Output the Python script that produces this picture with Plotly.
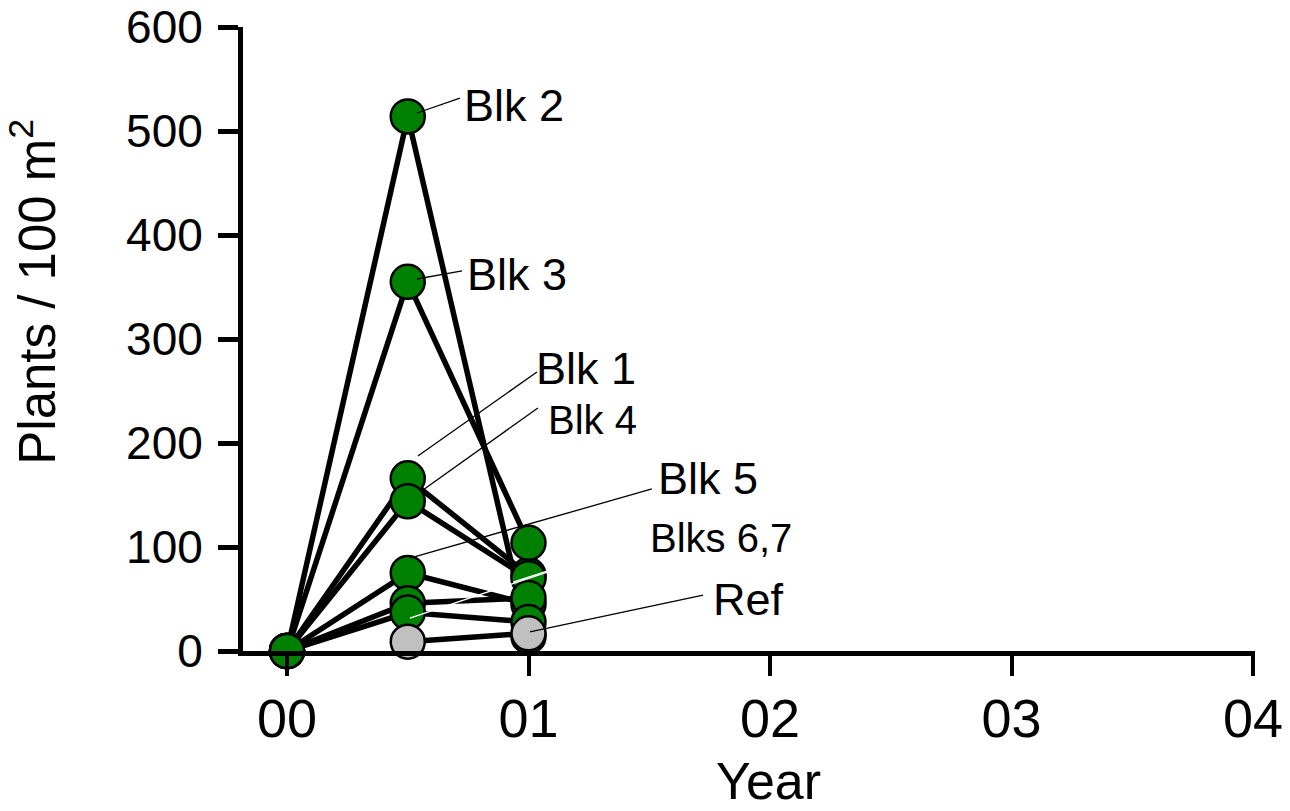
import plotly.graph_objects as go

# ---------------- data ----------------
years = [0, 0.5, 1]
series_names = ["Blk 1", "Blk 2", "Blk 3", "Blk 4", "Blk 5", "Blk 6", "Blk 7", "Ref"]
blk1 = [0, 166, 73]
blk2 = [0, 514, 14]
blk3 = [0, 355, 104]
blk4 = [0, 144, 70]
blk5 = [0, 75, 45]
blk6 = [0, 46, 51]
blk7 = [0, 37, 28]
ref_x = [0.5, 1]
ref = [9, 17]

x_tickvals = [0, 1, 2, 3, 4]
x_ticktext = ["00", "01", "02", "03", "04"]
y_tickvals = [0, 100, 200, 300, 400, 500, 600]

# label text, label position (data units), font size, leader start/end (data units), colour
labels = [
    ("Blk 2", 0.940, 525, 45, (0.716, 531.7), (0.538, 517.3), "black"),
    ("Blk 3", 0.952, 362.5, 45, (0.725, 365.4), (0.538, 357.7), "black"),
    ("Blk 1", 1.238, 272, 45, (1.035, 268.3), (0.542, 187.5), "black"),
    ("Blk 4", 1.267, 222, 40, (1.039, 233.7), (0.563, 154.8), "black"),
    ("Blk 5", 1.743, 166, 45, (1.511, 155.8), (0.509, 89.4), "black"),
    ("Blks 6,7", 1.797, 108.7, 40, (1.474, 106.7), (0.509, 31.7), "white"),
    ("Ref", 1.909, 50, 45, (1.723, 53.8), (1.006, 18.3), "black"),
]
extra_leaders = [((1.474, 106.7), (0.936, 66.3), "white")]

GREEN = "#008000"
GREY = "#C0C0C0"
FONT = "Arial, Liberation Sans, sans-serif"

data = [
    (years, blk1, GREEN), (years, blk2, GREEN), (years, blk3, GREEN),
    (years, blk4, GREEN), (years, blk5, GREEN), (years, blk6, GREEN),
    (years, blk7, GREEN), (ref_x, ref, GREY),
]

fig = go.Figure()
# lines first
for (xs, ys, c), name in zip(data, series_names):
    fig.add_trace(go.Scatter(x=xs, y=ys, mode="lines", name=name,
                             line=dict(color="black", width=5.5),
                             cliponaxis=False, showlegend=False))
# markers on top
for (xs, ys, c), name in zip(data, series_names):
    fig.add_trace(go.Scatter(x=xs, y=ys, mode="markers", name=name,
                             marker=dict(size=34, color=c,
                                         line=dict(color="black", width=2.5)),
                             cliponaxis=False, showlegend=False))

shapes = []
annotations = []
for text, lx, ly, fs, (x0, y0), (x1, y1), col in labels:
    annotations.append(dict(x=lx, y=ly, xref="x", yref="y", text=text,
                            showarrow=False, xanchor="center", yanchor="middle",
                            font=dict(family=FONT, size=fs, color="black")))
    shapes.append(dict(type="line", xref="x", yref="y", x0=x0, y0=y0, x1=x1, y1=y1,
                       line=dict(color=col, width=1.3), layer="above"))
for (x0, y0), (x1, y1), col in extra_leaders:
    shapes.append(dict(type="line", xref="x", yref="y", x0=x0, y0=y0, x1=x1, y1=y1,
                       line=dict(color=col, width=1.3), layer="above"))

# axis titles (paper coordinates)
annotations.append(dict(x=-0.207, y=0.575, xref="paper", yref="paper",
                        text="Plants / 100 m<sup>2</sup>", textangle=-90,
                        showarrow=False, xanchor="center", yanchor="middle",
                        font=dict(family=FONT, size=51, color="black")))
annotations.append(dict(x=0.519, y=-0.208, xref="paper", yref="paper", text="Year",
                        showarrow=False, xanchor="center", yanchor="middle",
                        font=dict(family=FONT, size=52, color="black")))

fig.update_layout(
    width=1290, height=811,
    margin=dict(l=243, r=35, t=27, b=160, pad=0),
    paper_bgcolor="white", plot_bgcolor="white",
    shapes=shapes, annotations=annotations,
    font=dict(family=FONT, color="black"),
)
fig.update_xaxes(range=[-0.1822, 4.0083], tickvals=x_tickvals, ticktext=x_ticktext,
                 showline=True, linewidth=5, linecolor="black",
                 ticks="outside", ticklen=20, tickwidth=4, tickcolor="black",
                 showgrid=False, zeroline=False, automargin=False,
                 tickfont=dict(family=FONT, size=54, color="black"),
                 ticklabelstandoff=-4)
fig.update_yaxes(range=[0, 600], tickvals=y_tickvals,
                 showline=True, linewidth=5, linecolor="black",
                 ticks="outside", ticklen=20, tickwidth=5, tickcolor="black",
                 showgrid=False, zeroline=False, automargin=False,
                 tickfont=dict(family=FONT, size=46, color="black"),
                 ticklabelstandoff=6)

fig.write_html("out.html")
